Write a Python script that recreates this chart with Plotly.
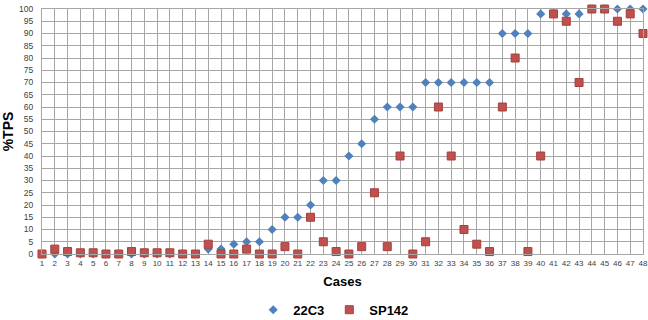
import plotly.graph_objects as go

cases = list(range(1, 49))
tps_22c3 = [0, 0, 0, 0, 0, 0, 0, 0, 0, 0, 0, 0, 0,
            2, 2, 4, 5, 5, 10, 15, 15, 20, 30, 30, 40, 45, 55, 60, 60, 60,
            70, 70, 70, 70, 70, 70, 90, 90, 90, 98, 98, 98, 98, 100, 100, 100, 100, 100]
tps_sp142 = [0, 2, 1, 0.5, 0.5, 0, 0, 1, 0.5, 0.5, 0.5, 0, 0,
             4, 0, 0, 2, 0, 0, 3, 0, 15, 5, 1, 0, 3, 25, 3, 40, 0,
             5, 60, 40, 10, 4, 1, 60, 80, 1, 40, 98, 95, 70, 100, 100, 95, 98, 90]
y_ticks = list(range(0, 101, 5))

FONT = "Liberation Sans"
GRID = "#A6A6A6"

fig = go.Figure()
fig.add_trace(go.Scatter(
    x=cases, y=tps_22c3, mode="markers", name="22C3",
    marker=dict(symbol="diamond", size=7, color="#4F81BD",
                line=dict(width=0)),
    cliponaxis=False,
))
fig.add_trace(go.Scatter(
    x=cases, y=tps_sp142, mode="markers", name="SP142",
    marker=dict(symbol="square", size=8, color="#C0504D",
                line=dict(width=1, color="#A5403D")),
    cliponaxis=False,
))

fig.update_layout(
    width=648, height=320,
    margin=dict(l=42, r=5, t=9, b=66, autoexpand=False),
    paper_bgcolor="white", plot_bgcolor="white",
    font=dict(family=FONT, color="#404040", size=8),
    showlegend=True,
    legend=dict(orientation="h", xref="container", yref="container",
                x=0.515, xanchor="center", y=0.032, yanchor="middle",
                font=dict(family=FONT, size=13, color="#000000", weight="bold"),
                itemwidth=30, tracegroupgap=0),
    xaxis=dict(
        range=[1, 48], tickmode="array", tickvals=cases,
        ticktext=[str(c) for c in cases],
        showgrid=True, gridcolor=GRID, gridwidth=1,
        showline=True, linecolor=GRID, mirror=True,
        zeroline=False, ticks="", ticklabelstandoff=1,
        ticklabeloverflow="allow", automargin=False,
        tickfont=dict(size=8, color="#404040"),
        title=dict(text="Cases", font=dict(family=FONT, size=13, color="#000000", weight="bold"),
                   standoff=10),
    ),
    yaxis=dict(
        range=[0, 100], tickmode="array", tickvals=y_ticks,
        showgrid=True, gridcolor=GRID, gridwidth=1,
        showline=True, linecolor=GRID, mirror=True,
        zeroline=False, ticks="", ticklabelstandoff=6,
        ticklabeloverflow="allow", automargin=False,
        tickfont=dict(size=8.5, color="#404040"),
        title=dict(text="%TPS", font=dict(family=FONT, size=14, color="#000000", weight="bold"),
                   standoff=10),
    ),
)

fig.write_html("out.html", config={"displayModeBar": False},
               post_script="document.body.style.margin='0';")
